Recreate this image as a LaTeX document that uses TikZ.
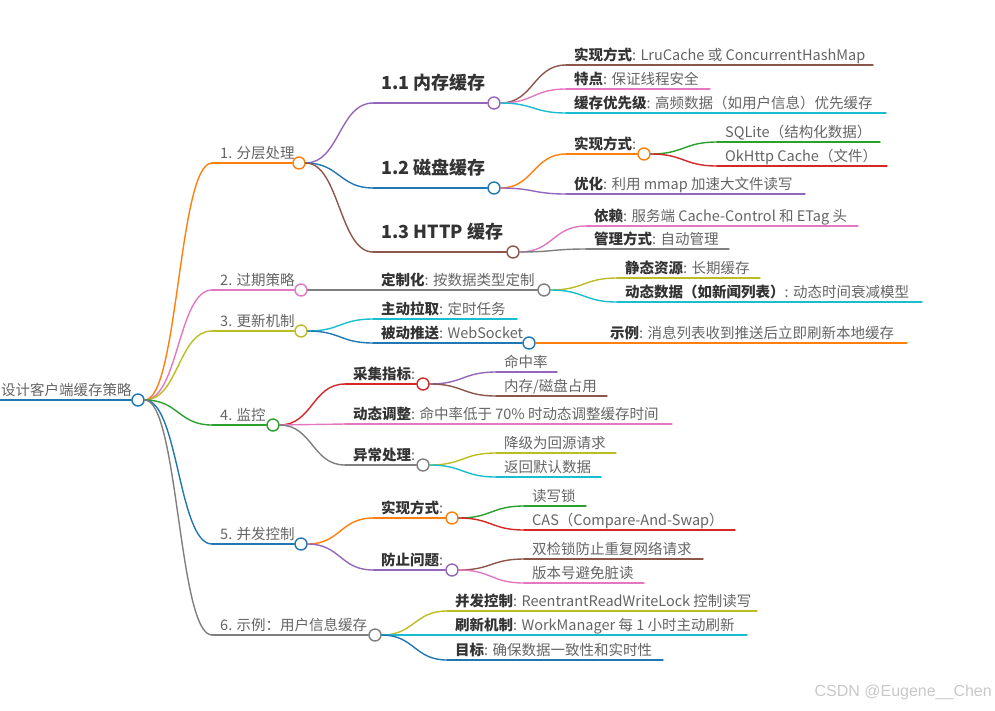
\documentclass[tikz,border=0pt]{standalone}
\usepackage{fontspec}
\setmainfont{Noto Sans CJK SC}
\newfontfamily\wmfont{Liberation Sans}
\usetikzlibrary{calc}
\definecolor{cOrange}{HTML}{FF7F0E}
\definecolor{cPink}{HTML}{E377C2}
\definecolor{cOlive}{HTML}{BCBD22}
\definecolor{cGreen}{HTML}{2CA02C}
\definecolor{cBlue}{HTML}{1F77B4}
\definecolor{cGray}{HTML}{7F7F7F}
\definecolor{cPurple}{HTML}{9467BD}
\definecolor{cBrown}{HTML}{8C564B}
\definecolor{cCyan}{HTML}{17BECF}
\definecolor{cRed}{HTML}{D62728}
\definecolor{tGray}{HTML}{646464}
\definecolor{tDark}{HTML}{333333}
\definecolor{wmGray}{HTML}{C8C8C8}
\tikzset{
  conn/.style={line width=1.4pt, line cap=round},
  dot/.style={circle, draw, fill=white, line width=1.4pt, minimum size=12pt, inner sep=0pt},
  txt/.style={inner sep=0pt, anchor=base west, yshift=4.5pt, font=\fontsize{14.5}{16}\selectfont, text=tGray},
  big/.style={inner sep=0pt, anchor=base west, yshift=13.5pt, font=\fontsize{18}{20}\selectfont\bfseries, text=tDark},
}
\newcommand\bb[1]{{\bfseries\color{tDark}#1}}
\newcommand\mmcurve[3]{%
  \draw[conn,#3] let \p1=(#1), \p2=(#2) in (\p1) .. controls ({(\x1+\x2)/2},\y1) and ({(\x1+\x2)/2},\y2) .. (\p2);}
% leaf: name, parent anchor, colour, xs, y, xe, text
\newcommand\mmleaf[7]{%
  \coordinate (#1s) at (#4,#5);
  \coordinate (#1e) at (#6,#5);
  \node[txt] (#1) at (#4+8,#5) {#7};
  \mmcurve{#2}{#1s}{#3}
  \draw[conn,#3] (#1s) -- (#1e);}
% inner node: name, parent anchor, colour, xs, y, xc, text, text style
\newcommand\mmnode[8]{%
  \coordinate (#1s) at (#4,#5);
  \node[dot,draw=#3] (#1) at (#6,#5) {};
  \node[#8] (#1t) at (#4+8,#5) {#7};
  \mmcurve{#2}{#1s}{#3}
  \draw[conn,#3] (#1s) -- (#1.west);}
\begin{document}
\begin{tikzpicture}[x=1pt,y=-1pt]
\useasboundingbox (0,0) rectangle (995,710);
% root
\coordinate (r0) at (0,400);
\node[dot,draw=cBlue] (root) at (138,400) {};
\node[txt] (roott) at (1,400) {设计客户端缓存策略};
\draw[conn,cBlue] (r0) -- (root.west);
% level 1
\mmnode{n1}{root.east}{cOrange}{212}{163}{299}{1. 分层处理}{txt}
\mmnode{n2}{root.east}{cPink}{212}{290}{301}{2. 过期策略}{txt}
\mmnode{n3}{root.east}{cOlive}{212}{331}{301}{3. 更新机制}{txt}
\mmnode{n4}{root.east}{cGreen}{212}{425}{273}{4. 监控}{txt}
\mmnode{n5}{root.east}{cBlue}{212}{544}{301}{5. 并发控制}{txt}
\mmnode{n6}{root.east}{cGray}{212}{635}{375}{6. 示例：用户信息缓存}{txt}
% 1.x
\mmnode{n11}{n1.east}{cPurple}{373}{103}{494}{1.1 内存缓存}{big}
\mmnode{n12}{n1.east}{cBlue}{373}{188}{494}{1.2 磁盘缓存}{big}
\mmnode{n13}{n1.east}{cBrown}{373}{252}{513}{1.3 HTTP 缓存}{big}
\mmleaf{l111}{n11.east}{cBrown}{566}{65}{873}{\bb{实现方式}: LruCache 或 ConcurrentHashMap}
\mmleaf{l112}{n11.east}{cPink}{566}{89}{710}{\bb{特点}: 保证线程安全}
\mmleaf{l113}{n11.east}{cCyan}{566}{113}{886}{\bb{缓存优先级}: 高频数据（如用户信息）优先缓存}
\mmnode{n121}{n12.east}{cOrange}{566}{154}{644}{\bb{实现方式}:}{txt}
\mmleaf{l1211}{n121.east}{cGreen}{717}{142}{880}{SQLite（结构化数据）}
\mmleaf{l1212}{n121.east}{cRed}{717}{166}{887}{OkHttp Cache（文件）}
\mmleaf{l122}{n12.east}{cPurple}{566}{194}{805}{\bb{优化}: 利用 mmap 加速大文件读写}
\mmleaf{l131}{n13.east}{cPink}{586}{226}{858}{\bb{依赖}: 服务端 Cache-Control 和 ETag 头}
\mmleaf{l132}{n13.east}{cGray}{586}{249}{729}{\bb{管理方式}: 自动管理}
% 2
\mmnode{n21}{n2.east}{cGray}{373}{290}{544}{\bb{定制化}: 按数据类型定制}{txt}
\mmleaf{l211}{n21.east}{cOlive}{617}{278}{760}{\bb{静态资源}: 长期缓存}
\mmleaf{l212}{n21.east}{cCyan}{617}{302}{922}{\bb{动态数据（如新闻列表）}: 动态时间衰减模型}
% 3
\mmleaf{l31}{n3.east}{cCyan}{373}{319}{517}{\bb{主动拉取}: 定时任务}
\mmnode{n32}{n3.east}{cBlue}{373}{343}{529}{\bb{被动推送}: WebSocket}{txt}
\mmleaf{l321}{n32.east}{cOrange}{602}{343}{907}{\bb{示例}: 消息列表收到推送后立即刷新本地缓存}
% 4
\mmnode{n41}{n4.east}{cRed}{345}{384}{423}{\bb{采集指标}:}{txt}
\mmleaf{l411}{n41.east}{cPurple}{496}{372}{557}{命中率}
\mmleaf{l412}{n41.east}{cBrown}{496}{396}{607}{内存/磁盘占用}
\mmleaf{l42}{n4.east}{cPink}{345}{424}{672}{\bb{动态调整}: 命中率低于 70\% 时动态调整缓存时间}
\mmnode{n43}{n4.east}{cGray}{345}{465}{423}{\bb{异常处理}:}{txt}
\mmleaf{l431}{n43.east}{cOlive}{496}{453}{616}{降级为回源请求}
\mmleaf{l432}{n43.east}{cCyan}{496}{477}{601}{返回默认数据}
% 5
\mmnode{n51}{n5.east}{cOrange}{373}{518}{452}{\bb{实现方式}:}{txt}
\mmleaf{l511}{n51.east}{cGreen}{524}{506}{586}{读写锁}
\mmleaf{l512}{n51.east}{cRed}{524}{530}{735}{CAS（Compare-And-Swap）}
\mmnode{n52}{n5.east}{cPurple}{373}{570}{452}{\bb{防止问题}:}{txt}
\mmleaf{l521}{n52.east}{cBrown}{524}{559}{703}{双检锁防止重复网络请求}
\mmleaf{l522}{n52.east}{cPink}{524}{583}{644}{版本号避免脏读}
% 6
\mmleaf{l61}{n6.east}{cOlive}{447}{611}{757}{\bb{并发控制}: ReentrantReadWriteLock 控制读写}
\mmleaf{l62}{n6.east}{cCyan}{447}{635}{747}{\bb{刷新机制}: WorkManager 每 1 小时主动刷新}
\mmleaf{l63}{n6.east}{cBlue}{447}{660}{663}{\bb{目标}: 确保数据一致性和实时性}
% watermark
\node[anchor=east, inner sep=0pt, text=wmGray, font=\wmfont\fontsize{16}{18}\selectfont] (wm) at (992,692) {CSDN @Eugene\_\_Chen};
\end{tikzpicture}
\end{document}
